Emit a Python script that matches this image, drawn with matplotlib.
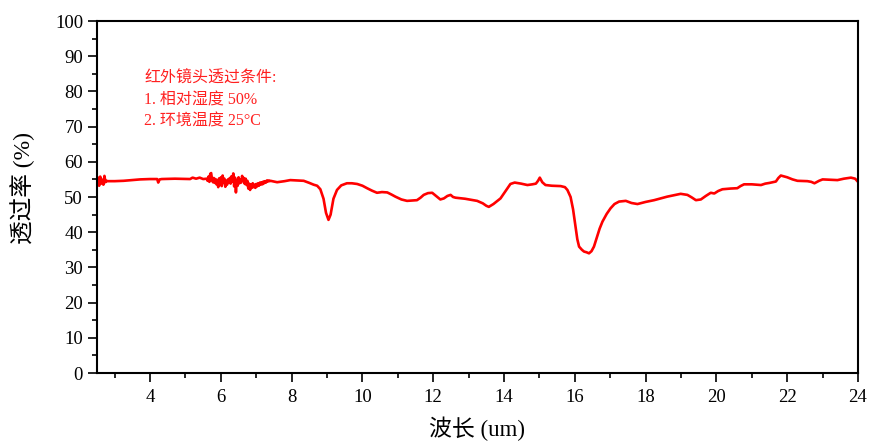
import matplotlib
matplotlib.use("Agg")
import matplotlib.pyplot as plt
from matplotlib.ticker import MultipleLocator

plt.rcParams['font.family'] = ['Liberation Serif', 'Noto Sans CJK SC']

# --- data (wavelength in um, transmittance in %) ---
# noisy start of the scan
wl_start = [2.50, 2.53, 2.56, 2.59, 2.62, 2.65, 2.68, 2.71, 2.74, 2.77]
tr_start = [54.0, 55.5, 53.2, 55.8, 53.8, 54.9, 53.5, 56.0, 54.2, 54.6]

# smooth part 2.8 - 5.5
wl_flat = [2.80, 3.00, 3.25, 3.50, 3.72, 4.00, 4.20, 4.23, 4.27, 4.33, 4.70,
           5.13, 5.20, 5.30, 5.40, 5.50]
tr_flat = [54.5, 54.5, 54.6, 54.8, 55.0, 55.1, 55.1, 54.1, 55.0, 55.1, 55.2,
           55.1, 55.5, 55.2, 55.5, 55.1]

# noisy band 5.6 - 7.4 (water vapour lines)
wl_noise = [5.600, 5.625, 5.650, 5.675, 5.700, 5.725, 5.750, 5.775, 5.800, 5.825,
            5.850, 5.875, 5.900, 5.925, 5.950, 5.975, 6.000, 6.025, 6.050, 6.075,
            6.100, 6.125, 6.150, 6.175, 6.200, 6.225, 6.250, 6.275, 6.300, 6.325,
            6.350, 6.375, 6.400, 6.425, 6.450, 6.475, 6.500, 6.525, 6.550, 6.575,
            6.600, 6.625, 6.650, 6.675, 6.700, 6.725, 6.750, 6.775, 6.800, 6.825,
            6.850, 6.875, 6.900, 6.925, 6.950, 6.975, 7.000, 7.025, 7.050, 7.075,
            7.100, 7.125, 7.150, 7.175, 7.200, 7.225, 7.250, 7.275, 7.300, 7.325,
            7.350, 7.375, 7.400]
tr_noise = [55.2, 54.6, 55.8, 54.3, 56.6, 56.8, 55.0, 54.2, 55.4, 54.0,
            55.1, 53.6, 54.8, 52.8, 55.3, 53.4, 55.6, 53.1, 56.1, 54.0,
            55.2, 52.9, 54.6, 53.5, 55.0, 54.2, 55.4, 53.8, 55.9, 54.4,
            56.7, 53.0, 55.5, 51.3, 54.8, 53.2, 55.6, 53.9, 55.0, 54.1,
            56.0, 54.6, 55.4, 53.7, 55.2, 53.4, 54.6, 52.4, 53.8, 52.0,
            53.6, 52.6, 53.9, 52.8, 53.5, 52.6, 53.7, 53.0, 53.9, 53.2,
            54.1, 53.5, 54.2, 53.6, 54.4, 53.9, 54.5, 54.1, 54.7, 54.4,
            54.7, 54.5, 54.6]

# rest of the spectrum 7.6 - 24
wl_rest = [7.59, 7.80, 7.96, 8.15, 8.34, 8.50, 8.62, 8.72, 8.81, 8.90, 8.97,
           9.04, 9.10, 9.18, 9.28, 9.40, 9.56, 9.70, 9.85, 10.00, 10.13, 10.27,
           10.41, 10.55, 10.70, 10.82, 10.93, 11.10, 11.26, 11.40, 11.54, 11.64,
           11.73, 11.85, 11.97, 12.08, 12.20, 12.30, 12.40, 12.49, 12.56, 12.63,
           12.90, 13.24, 13.40, 13.50, 13.57, 13.70, 13.90, 14.05, 14.18, 14.30,
           14.48, 14.66, 14.80, 14.90, 14.96, 15.01, 15.08, 15.17, 15.35, 15.60,
           15.72, 15.79, 15.88, 15.95, 16.02, 16.07, 16.12, 16.20, 16.26, 16.33,
           16.40, 16.47, 16.54, 16.62, 16.70, 16.78, 16.90, 17.01, 17.12, 17.25,
           17.44, 17.60, 17.77, 18.00, 18.24, 18.42, 18.61, 18.80, 18.99, 19.18,
           19.30, 19.42, 19.56, 19.70, 19.84, 19.94, 20.05, 20.17, 20.40, 20.59,
           20.68, 20.78, 21.00, 21.26, 21.38, 21.50, 21.68, 21.75, 21.82, 22.00,
           22.15, 22.29, 22.57, 22.68, 22.77, 22.90, 23.00, 23.20, 23.42, 23.60,
           23.80, 23.92, 24.00]
tr_rest = [54.2, 54.5, 54.8, 54.7, 54.6, 54.0, 53.5, 53.2, 52.2, 49.5, 45.5,
           43.5, 45.0, 49.5, 52.0, 53.3, 53.9, 53.9, 53.7, 53.2, 52.5, 51.8,
           51.2, 51.4, 51.3, 50.7, 50.1, 49.3, 48.9, 49.0, 49.1, 49.8,
           50.6, 51.1, 51.2, 50.3, 49.3, 49.6, 50.3, 50.6, 50.0, 49.8,
           49.5, 48.9, 48.2, 47.5, 47.2, 48.0, 49.6, 51.8, 53.7, 54.1,
           53.8, 53.4, 53.6, 53.8, 54.6, 55.5, 54.2, 53.4, 53.2, 53.1,
           52.8, 52.0, 50.0, 46.5, 41.6, 38.0, 35.9, 35.0, 34.5, 34.3,
           34.0, 34.6, 35.9, 38.5, 41.0, 43.0, 45.2, 46.8, 48.0, 48.7,
           48.9, 48.3, 48.0, 48.6, 49.1, 49.6, 50.1, 50.5, 50.9, 50.6,
           49.9, 49.1, 49.3, 50.3, 51.2, 51.0, 51.7, 52.2, 52.4, 52.5,
           53.1, 53.6, 53.6, 53.4, 53.8, 54.0, 54.4, 55.4, 56.1, 55.6,
           55.0, 54.6, 54.5, 54.3, 53.9, 54.6, 55.0, 54.9, 54.8, 55.2,
           55.5, 55.2, 54.3]

wavelength = wl_start + wl_flat + wl_noise + wl_rest
transmittance = tr_start + tr_flat + tr_noise + tr_rest

note_lines = ['红外镜头透过条件:', '1. 相对湿度 50%', '2. 环境温度 25°C']

# --- plot ---
fig = plt.figure(figsize=(8.69, 4.43), dpi=100)
ax = fig.add_axes([97 / 869, 70 / 443, 761 / 869, 352 / 443])

ax.plot(wavelength, transmittance, color='#ff0000', lw=1.9)

ax.set_xlim(2.5, 24)
ax.set_ylim(0, 100)
ax.xaxis.set_major_locator(MultipleLocator(2))
ax.xaxis.set_minor_locator(MultipleLocator(1))
ax.yaxis.set_major_locator(MultipleLocator(10))
ax.yaxis.set_minor_locator(MultipleLocator(5))
ax.set_xticks([4, 6, 8, 10, 12, 14, 16, 18, 20, 22, 24])

ax.tick_params(which='major', direction='out', length=6.5, width=1.2, labelsize=13.5)
ax.tick_params(which='minor', direction='out', length=3.5, width=1.2)
ax.tick_params(axis='x', pad=5)
for sp in ax.spines.values():
    sp.set_linewidth(1.5)

ax.set_xlabel('波长 (um)', fontsize=16.5)
ax.set_ylabel('透过率 (%)', fontsize=17)
ax.xaxis.set_label_coords(0.5, -0.125)
ax.yaxis.set_label_coords(-0.081, 0.526)

ax.text(0.062, 0.858, '\n'.join(note_lines),
        transform=ax.transAxes, color='#ff2020', fontsize=11.5,
        va='top', ha='left', linespacing=1.45)

fig.savefig('out.png', dpi=100)
